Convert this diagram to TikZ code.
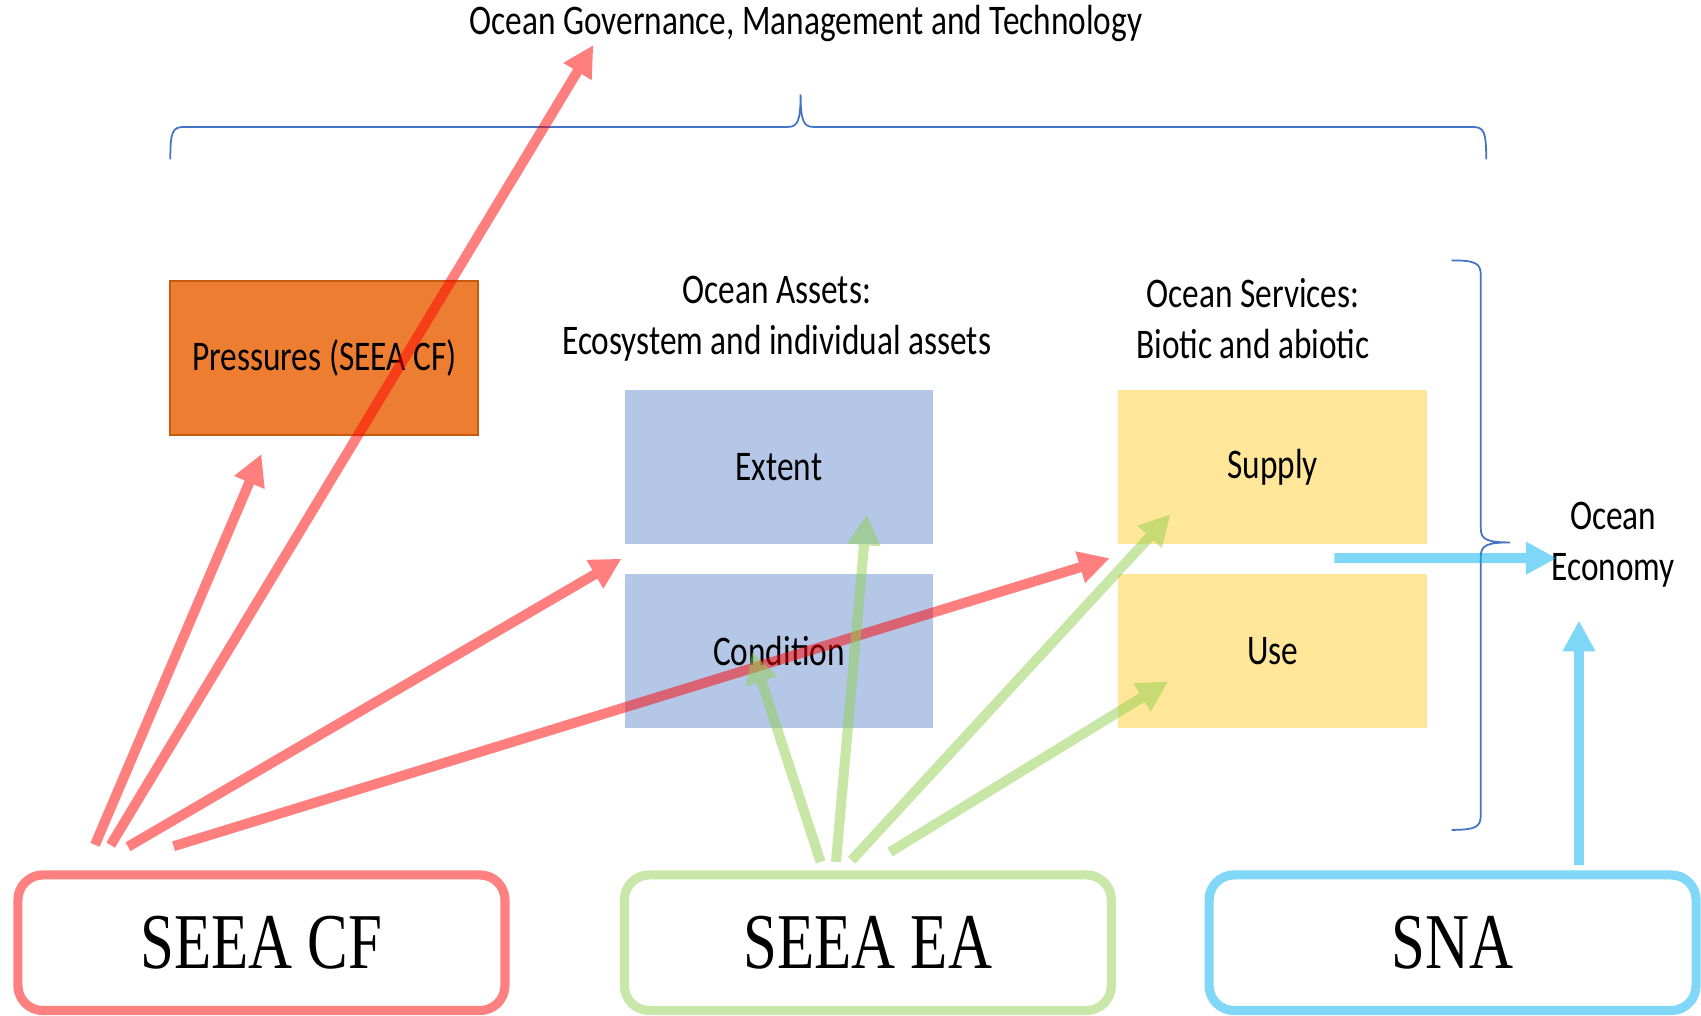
\documentclass[tikz,border=0pt]{standalone}
\usepackage{fontspec}
\usepackage{xcolor}
\usepackage{tikz}
\usetikzlibrary{arrows.meta}
\newfontfamily\calib[FakeStretch=0.79]{Carlito}
\newfontfamily\grandfont[FakeStretch=0.77]{Liberation Serif}
\definecolor{orangebox}{HTML}{ED7D31}
\definecolor{orangeline}{HTML}{C55A11}
\definecolor{bluebox}{HTML}{B4C7E7}
\definecolor{yellowbox}{HTML}{FFE699}
\definecolor{bracecol}{HTML}{4472C4}
\definecolor{greenarrow}{HTML}{92D050}
\definecolor{bluearrow}{HTML}{00B0F0}

\tikzset{
  texte/.style={font=\calib\fontsize{12}{14.5}\selectfont, align=center, inner sep=0pt},
  case/.style={texte, minimum width=30.8mm, minimum height=15.4mm},
  cadre/.style={draw, line width=2.6pt, rounded corners=2.5mm, minimum width=48.7mm,
    minimum height=13.56mm, inner sep=0pt, font=\grandfont\fontsize{22.5}{26}\selectfont},
  fleche/.style={line width=2.85pt, -{Triangle[width=8.8pt,length=8.8pt]}},
  accolade/.style={draw=bracecol, line width=0.5pt}
}

% fleche transparente : couleur, depart, arrivee
\newcommand\fleche[3]{%
  \begin{scope}[transparency group, opacity=0.5]
    \draw[fleche, #1] (#2) -- (#3);
  \end{scope}}

\begin{document}
\begin{tikzpicture}[x=0.10848mm, y=-0.10848mm]
    \useasboundingbox (0,0) rectangle (1568,936);

    % Titre du haut
    \node[texte] (gouv) at (743,22) {Ocean Governance, Management and Technology};

    % Accolade horizontale
    \draw[accolade] (157,147) .. controls (157,121) and (159,117) .. (170,117) -- (726,117)
        .. controls (735,117) and (738,112) .. (738,87)
        .. controls (738,112) and (741,117) .. (750,117) -- (1357,117)
        .. controls (1368,117) and (1370,121) .. (1370,147);

    % Accolade verticale
    \draw[accolade] (1338,240) .. controls (1361,240) and (1365,243) .. (1365,254) -- (1365,487)
        .. controls (1365,497) and (1370,500) .. (1392,500)
        .. controls (1370,500) and (1365,503) .. (1365,513) -- (1365,751)
        .. controls (1365,762) and (1361,765) .. (1338,765);

    % Pressions
    \node[case, fill=orangebox, draw=orangeline, line width=0.6pt] (pressures) at (299,330) {Pressures (SEEA CF)};

    % Actifs
    \node[texte] (actifs) at (716,294) {Ocean Assets:\\Ecosystem and individual assets};
    \node[case, fill=bluebox] (extent) at (718,430.5) {Extent};
    \node[case, fill=bluebox] (condition) at (718,600.5) {Condition};

    % Services
    \node[texte] (services) at (1155,294) {Ocean Services:\\Biotic and abiotic};
    \node[case, fill=yellowbox] (supply) at (1173,430.5) {Supply};
    \node[case, fill=yellowbox] (use) at (1173,600.5) {Use};

    % Economie
    \node[texte] (economy) at (1487,502) {Ocean\\Economy};

    % Cadres du bas
    \node[cadre, draw=red!50] (seeacf) at (241,869) {SEEA CF};
    \node[cadre, draw=greenarrow!50] (seeaea) at (800,869) {SEEA EA};
    \node[cadre, draw=bluearrow!50] (sna) at (1339,869) {SNA};

    % Points de depart et d'arrivee
    \coordinate (cf1) at (87.6,778.7);
    \coordinate (cf2) at (102,779);
    \coordinate (cf3) at (118,780.5);
    \coordinate (cf4) at (160,780);
    \coordinate (ea1) at (756.5,794.6);
    \coordinate (ea2) at (770.6,794.6);
    \coordinate (ea3) at (785,793);
    \coordinate (ea4) at (820.4,785.4);
    \coordinate (sn1) at (1230,514.5);
    \coordinate (sn2) at (1455.5,797.5);
    \coordinate (pr) at (241,418.5);
    \coordinate (gv) at (547,41.5);
    \coordinate (ex) at (573,515);
    \coordinate (sp) at (1023,514.5);
    \coordinate (co) at (693.2,601);
    \coordinate (et) at (799,474);
    \coordinate (su) at (1079,474);
    \coordinate (us) at (1077,628);
    \coordinate (oe) at (1435,514.5);
    \coordinate (ob) at (1455.5,572);

    % Fleches SEEA CF
    \fleche{red}{cf1}{pr}
    \fleche{red}{cf2}{gv}
    \fleche{red}{cf3}{ex}
    \fleche{red}{cf4}{sp}

    % Fleches SEEA EA
    \fleche{greenarrow}{ea1}{co}
    \fleche{greenarrow}{ea2}{et}
    \fleche{greenarrow}{ea3}{su}
    \fleche{greenarrow}{ea4}{us}

    % Fleches SNA
    \fleche{bluearrow}{sn1}{oe}
    \fleche{bluearrow}{sn2}{ob}
\end{tikzpicture}
\end{document}
